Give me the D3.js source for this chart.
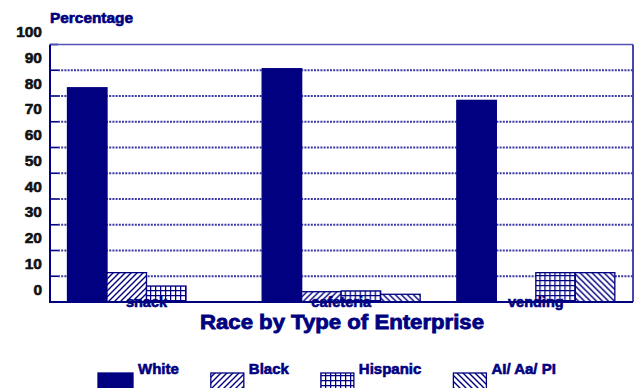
<!DOCTYPE html>
<html>
<head>
<meta charset="utf-8">
<script src="https://cdn.jsdelivr.net/npm/d3@7"></script>
<style>
  html, body { margin: 0; padding: 0; background: #fff; }
  svg { display: block; }
  text { font-family: "Liberation Sans", Arial, sans-serif; font-weight: bold; }
</style>
</head>
<body>
<svg id="chart" width="636" height="388"></svg>
<script>
// Share of workers by race, per type of enterprise (percent)
const categories = ["snack", "cafeteria", "vending"];
const seriesNames = ["White", "Black", "Hispanic", "AI/ Aa/ PI"];
const white    = [83.2, 90.6, 78.3];
const black    = [11.4, 4.0, 0];
const hispanic = [6.2, 4.3, 11.4];
const aiAaPi   = [0, 3.0, 11.4];
const yTicks   = [0, 10, 20, 30, 40, 50, 60, 70, 80, 90, 100];

const seriesValues = [white, black, hispanic, aiAaPi];
const navy = "#000080";

const svg = d3.select("#chart");
const defs = svg.append("defs");

// Fill patterns for each series
function linePattern(id, d) {
  const p = defs.append("pattern").attr("id", id)
    .attr("patternUnits", "userSpaceOnUse").attr("width", 6).attr("height", 6);
  p.append("rect").attr("width", 6).attr("height", 6).attr("fill", "#fff");
  p.append("path").attr("d", d).attr("stroke", navy).attr("stroke-width", 1.4).attr("fill", "none");
}
linePattern("pat-fwd", "M-1,7 L7,-1 M-4,4 L4,-4 M2,10 L10,2");
linePattern("pat-back", "M-1,-1 L7,7 M-4,2 L2,8 M4,-2 L10,4");
(function () {
  const p = defs.append("pattern").attr("id", "pat-grid")
    .attr("patternUnits", "userSpaceOnUse").attr("width", 5).attr("height", 5);
  p.append("rect").attr("width", 5).attr("height", 5).attr("fill", "#fff");
  p.append("path").attr("d", "M0,0.6 H5 M0.6,0 V5").attr("stroke", navy).attr("stroke-width", 1.3);
})();
const fills = [navy, "url(#pat-fwd)", "url(#pat-grid)", "url(#pat-back)"];

// Plot frame
const plotLeft = 50, plotRight = 633, plotTop = 44.5, plotBottom = 302;

const y = d3.scaleLinear().domain([0, 100]).range([plotBottom, plotTop]);
const x0 = d3.scaleBand().domain(categories).range([plotLeft, plotRight + 1]).padding(0);
const x1 = d3.scaleBand().domain(seriesNames).range([17.5, 175.5]).padding(0);

// Dotted gridlines with short solid ticks at the left axis
const grid = svg.append("g");
grid.selectAll("line.grid").data(yTicks.filter(v => v > 0 && v < 100)).join("line")
  .attr("class", "grid")
  .attr("x1", plotLeft + 8).attr("x2", plotRight)
  .attr("y1", d => y(d)).attr("y2", d => y(d))
  .attr("stroke", "#3a3aa8").attr("stroke-width", 2)
  .attr("stroke-dasharray", "2,1.2");
grid.selectAll("line.tick").data(yTicks).join("line")
  .attr("class", "tick")
  .attr("x1", plotLeft).attr("x2", plotLeft + 8)
  .attr("y1", d => y(d)).attr("y2", d => y(d))
  .attr("stroke", navy).attr("stroke-width", 1.6);

// Frame: thin top and right, heavy left and bottom
svg.append("line").attr("x1", plotLeft).attr("x2", plotRight).attr("y1", y(100)).attr("y2", y(100))
  .attr("stroke", "#5555b5").attr("stroke-width", 1.3);
svg.append("line").attr("x1", plotRight).attr("x2", plotRight).attr("y1", y(100)).attr("y2", plotBottom)
  .attr("stroke", "#3333a5").attr("stroke-width", 1.8);

// Bars
const groups = svg.append("g").selectAll("g").data(categories).join("g")
  .attr("transform", d => `translate(${x0(d)},0)`);
groups.selectAll("rect")
  .data((c, ci) => seriesNames.map((s, si) => ({ s, si, v: seriesValues[si][ci] })).filter(d => d.v > 0))
  .join("rect")
  .attr("x", d => x1(d.s))
  .attr("width", x1.bandwidth())
  .attr("y", d => y(d.v))
  .attr("height", d => y(0) - y(d.v))
  .attr("fill", d => fills[d.si])
  .attr("stroke", navy).attr("stroke-width", 1.3);

svg.append("line").attr("x1", plotLeft).attr("x2", plotLeft).attr("y1", y(100)).attr("y2", plotBottom + 1)
  .attr("stroke", navy).attr("stroke-width", 2);
svg.append("line").attr("x1", plotLeft).attr("x2", plotRight).attr("y1", plotBottom).attr("y2", plotBottom)
  .attr("stroke", navy).attr("stroke-width", 2);

// Y tick labels sit half a step above their gridlines
svg.append("g").selectAll("text").data(yTicks).join("text")
  .attr("x", 42).attr("y", d => y(d + 5) + 5.5)
  .attr("text-anchor", "end")
  .attr("font-size", 15.5).attr("fill", "#111")
  .attr("stroke", "#111").attr("stroke-width", 0.6)
  .text(d => d);

// Axis heading
svg.append("text").attr("x", 50).attr("y", 23)
  .attr("font-size", 14).attr("fill", navy)
  .attr("stroke", navy).attr("stroke-width", 0.6)
  .attr("textLength", 83).attr("lengthAdjust", "spacingAndGlyphs")
  .text("Percentage");

// Category labels centred under each group
svg.append("g").selectAll("text").data(categories).join("text")
  .attr("x", d => x0(d) + (x1.range()[0] + x1.range()[1]) / 2)
  .attr("y", 306.5)
  .attr("text-anchor", "middle")
  .attr("font-size", 14.5).attr("fill", navy)
  .attr("stroke", navy).attr("stroke-width", 0.6)
  .text(d => d);

// X title
svg.append("text").attr("x", 342).attr("y", 329)
  .attr("text-anchor", "middle")
  .attr("font-size", 20).attr("fill", navy)
  .attr("stroke", navy).attr("stroke-width", 0.8)
  .attr("textLength", 284).attr("lengthAdjust", "spacingAndGlyphs")
  .text("Race by Type of Enterprise");

// Legend: swatch, label, then a fixed gap to the next entry
const legend = svg.append("g");
let lx = 98;
seriesNames.forEach((name, i) => {
  const sw = i === 0 ? 35 : 33;
  legend.append("rect").attr("x", lx).attr("y", 373).attr("width", sw).attr("height", 16)
    .attr("fill", fills[i]).attr("stroke", navy).attr("stroke-width", 1.3);
  const t = legend.append("text").attr("x", lx + sw + 5).attr("y", 374)
    .attr("font-size", 15).attr("fill", navy)
    .attr("stroke", navy).attr("stroke-width", 0.6)
    .text(name);
  lx += sw + 5 + t.node().getComputedTextLength() + 32;
});
</script>
</body>
</html>
